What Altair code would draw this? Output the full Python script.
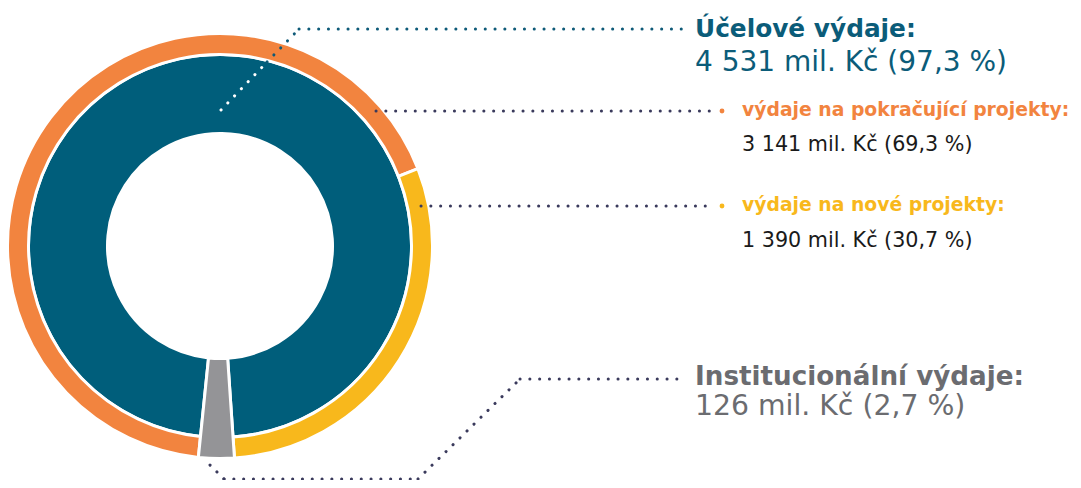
import math
import altair as alt
import pandas as pd

# ---------------- data ----------------
main_cats = ["Institucionální výdaje", "Účelové výdaje"]
main_vals = [126, 4531]
main_pcts = ["2,7", "97,3"]
sub_cats = ["výdaje na pokračující projekty", "výdaje na nové projekty"]
sub_vals = [3141, 1390]
sub_pcts = ["69,3", "30,7"]

main_colors = ["#949497", "#005e7b"]
sub_colors = ["#f2843f", "#f8b81c"]

# ---------------- layout ----------------
FONT = "DejaVu Sans"
W, H = 1065, 472
CX, CY = 212, 238
START = math.radians(176.1)
TEAL_TXT = "#0b5c79"
NAVY = "#3a3a5c"
GRAY_TXT = "#6b6c70"

def fmt(v):
    return f"{v:,}".replace(",", " ")

# arc table
rows = []
cum = 0
for c, v in zip(main_cats, main_vals):
    rows.append(dict(cat=c, ring="full" if c == main_cats[0] else "inner", start=cum, end=cum + v))
    cum += v
total = cum
cum = main_vals[0]
for c, v in zip(sub_cats, sub_vals):
    rows.append(dict(cat=c, ring="outer", start=cum, end=cum + v))
    cum += v
arcs = pd.DataFrame(rows)

theta_scale = alt.Scale(domain=[0, total], range=[START, START + 2 * math.pi])
color_scale = alt.Scale(domain=main_cats + sub_cats, range=main_colors + sub_colors)


def ring(name, r0, r1):
    return alt.Chart(arcs).transform_filter(alt.datum.ring == name).mark_arc(
        innerRadius=r0, outerRadius=r1, stroke="white", strokeWidth=3
    ).encode(
        theta=alt.Theta("start:Q", stack=None, scale=theta_scale),
        theta2="end:Q",
        color=alt.Color("cat:N", scale=color_scale, legend=None),
        x=alt.value(CX),
        y=alt.value(CY),
    )


layers = [ring("inner", 112.5, 191.5), ring("outer", 191.5, 212.5), ring("full", 112.5, 212.5)]

one = pd.DataFrame({"a": [0]})


def seg(x1, y1, x2, y2, color):
    return alt.Chart(one).mark_rule(
        strokeDash=[0.1, 9.7], strokeCap="round", strokeWidth=3, color=color
    ).encode(x=alt.value(x1 - 8), y=alt.value(y1 - 8), x2=alt.value(x2 - 8), y2=alt.value(y2 - 8))


def dot(x, y, color):
    return alt.Chart(one).mark_circle(size=24, color=color, opacity=1).encode(
        x=alt.value(x - 8), y=alt.value(y - 8)
    )


def txt(text, x, y, size, weight, color):
    return alt.Chart(pd.DataFrame({"t": [text]})).mark_text(
        align="left", baseline="alphabetic", font=FONT, fontSize=size, fontWeight=weight, color=color
    ).encode(text="t:N", x=alt.value(x - 8), y=alt.value(y - 8))


# leader lines
layers += [
    seg(221, 110, 267, 62, "white"),
    seg(267, 62, 299, 29, "#0e5a78"),
    seg(299, 29, 684, 29, "#0e5a78"),
    seg(376, 111, 712, 111, NAVY),
    dot(722, 111, sub_colors[0]),
    seg(421, 206, 712, 206, NAVY),
    dot(722, 206, sub_colors[1]),
    seg(210, 465, 224, 479, NAVY),
    seg(224, 479, 418, 479, NAVY),
    seg(418, 479, 520, 379, NAVY),
    seg(520, 379, 684, 379, NAVY),
]

# labels
layers += [
    txt(main_cats[1] + ":", 695, 37, 24.8, "bold", TEAL_TXT),
    txt(f"{fmt(main_vals[1])} mil. Kč ({main_pcts[1]} %)", 695, 71, 28, "normal", TEAL_TXT),
    txt(sub_cats[0] + ":", 742, 116, 18.8, "bold", sub_colors[0]),
    txt(f"{fmt(sub_vals[0])} mil. Kč ({sub_pcts[0]} %)", 742, 151, 20.7, "normal", "#1a1a1a"),
    txt(sub_cats[1] + ":", 742, 211, 18.8, "bold", sub_colors[1]),
    txt(f"{fmt(sub_vals[1])} mil. Kč ({sub_pcts[1]} %)", 742, 247, 20.7, "normal", "#1a1a1a"),
    txt(main_cats[0] + ":", 695, 385, 26.2, "bold", GRAY_TXT),
    txt(f"{fmt(main_vals[0])} mil. Kč ({main_pcts[0]} %)", 695, 415, 28.3, "normal", GRAY_TXT),
]

chart = alt.layer(*layers).properties(
    width=W, height=H, padding=0, autosize=alt.AutoSizeParams(type="none")
).configure_view(stroke=None)

chart.save("out.html", embed_options={"renderer": "svg", "actions": False})
